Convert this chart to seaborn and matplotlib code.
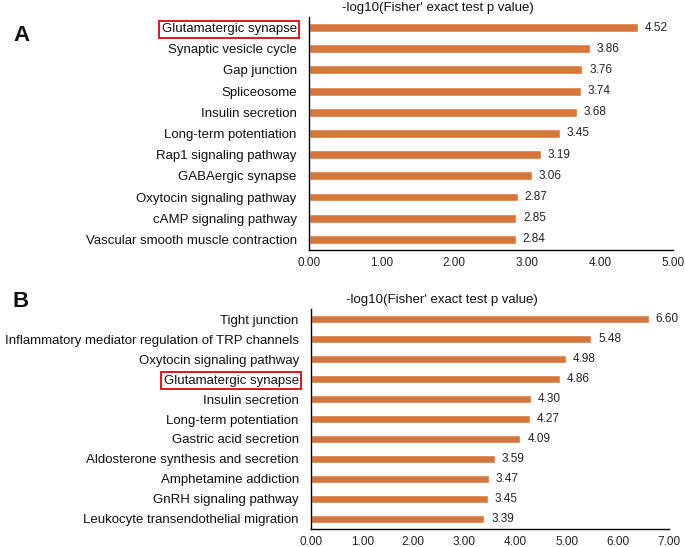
import pandas as pd
import seaborn as sns
import matplotlib.pyplot as plt

sns.set_style("white")
plt.rcParams['font.family'] = ['Liberation Sans', 'DejaVu Sans']

# panel A data
pathways_a = ["Glutamatergic synapse", "Synaptic vesicle cycle", "Gap junction",
              "Spliceosome", "Insulin secretion", "Long-term potentiation",
              "Rap1 signaling pathway", "GABAergic synapse",
              "Oxytocin signaling pathway", "cAMP signaling pathway",
              "Vascular smooth muscle contraction"]
scores_a = [4.52, 3.86, 3.76, 3.74, 3.68, 3.45, 3.19, 3.06, 2.87, 2.85, 2.84]

# panel B data
pathways_b = ["Tight junction", "Inflammatory mediator regulation of TRP channels",
              "Oxytocin signaling pathway", "Glutamatergic synapse",
              "Insulin secretion", "Long-term potentiation",
              "Gastric acid secretion", "Aldosterone synthesis and secretion",
              "Amphetamine addiction", "GnRH signaling pathway",
              "Leukocyte transendothelial migration"]
scores_b = [6.60, 5.48, 4.98, 4.86, 4.30, 4.27, 4.09, 3.59, 3.47, 3.45, 3.39]

xticks_a = [0, 1, 2, 3, 4, 5]
xticks_b = [0, 1, 2, 3, 4, 5, 6, 7]

title = "-log10(Fisher' exact test p value)"
bar_color = "#D6763A"
highlight = "Glutamatergic synapse"

fig = plt.figure(figsize=(6.85, 5.47), dpi=100)
ax_a = fig.add_axes([0.451, 0.543, 0.531, 0.426])
ax_b = fig.add_axes([0.454, 0.033, 0.523, 0.402])


def draw_panel(ax, names, vals, ticks, title_x):
    df = pd.DataFrame({"pathway": names, "score": vals})
    sns.barplot(data=df, y="pathway", x="score", color=bar_color,
                width=0.42, orient="h", ax=ax, saturation=1)
    ax.bar_label(ax.containers[0], fmt="%.2f", padding=5, fontsize=8.5,
                 color="#222222")
    ax.set_xlim(ticks[0], ticks[-1])
    ax.set_ylim(len(names) - 0.5, -0.5)
    ax.set_xticks(ticks)
    ax.set_xticklabels([f"{t:.2f}" for t in ticks], fontsize=8.5, color="#222222")
    ax.set_xlabel("")
    ax.set_ylabel("")
    ax.tick_params(axis="y", length=0, pad=8.8, labelsize=9.5, labelcolor="#111111")
    ax.tick_params(axis="x", direction="in", length=2.5, width=0.6,
                   color="#999999", pad=5)
    for side in ["top", "right"]:
        ax.spines[side].set_visible(False)
    for side in ["left", "bottom"]:
        ax.spines[side].set_color("black")
        ax.spines[side].set_linewidth(1.0)
    ax.text(title_x, 1.012, title, transform=ax.transAxes, ha="center",
            va="bottom", fontsize=9.5, color="#111111")
    for lbl in ax.get_yticklabels():
        if lbl.get_text() == highlight:
            lbl.set_bbox(dict(facecolor="none", edgecolor="#E8141B",
                              linewidth=1.4, pad=1.8))


draw_panel(ax_a, pathways_a, scores_a, xticks_a, 0.354)
draw_panel(ax_b, pathways_b, scores_b, xticks_b, 0.366)

fig.text(0.019, 0.936, "A", fontsize=16, fontweight="bold", ha="left",
         va="center", color="#111111")
fig.text(0.018, 0.448, "B", fontsize=16, fontweight="bold", ha="left",
         va="center", color="#111111")

fig.savefig("out.png", dpi=100)
